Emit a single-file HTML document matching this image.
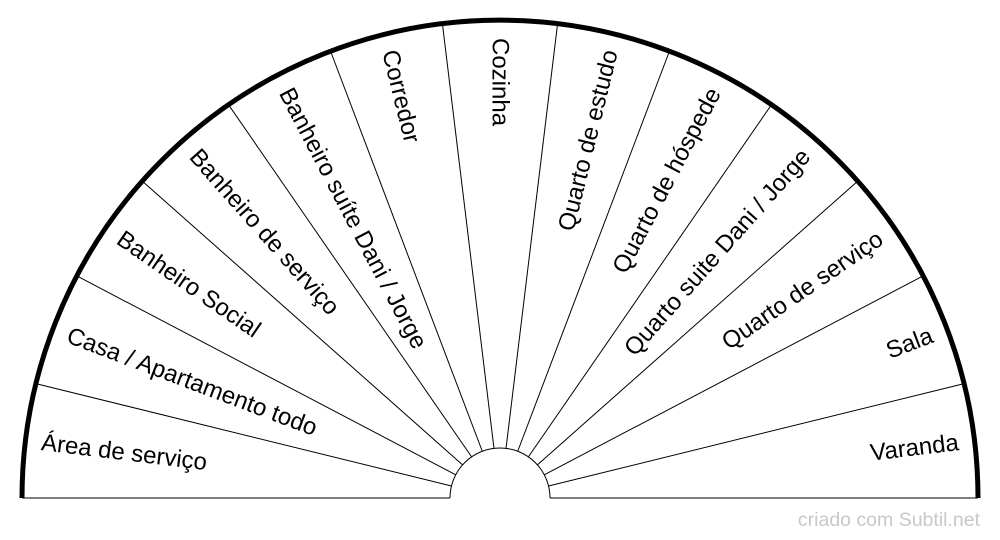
<!DOCTYPE html>
<html><head><meta charset="utf-8"><style>
html,body{margin:0;padding:0;background:#fff;}
svg{display:block;}
text{font-family:"Liberation Sans",sans-serif;}
</style></head><body>
<svg width="1000" height="540" xmlns="http://www.w3.org/2000/svg">
<g stroke="#000" stroke-width="1" fill="none">
<line x1="451.45" y1="486.03" x2="36.86" y2="383.84"/>
<line x1="455.73" y1="474.76" x2="77.63" y2="276.33"/>
<line x1="462.57" y1="464.84" x2="142.96" y2="181.69"/>
<line x1="471.60" y1="456.85" x2="229.04" y2="105.44"/>
<line x1="482.27" y1="451.25" x2="330.86" y2="51.99"/>
<line x1="493.97" y1="448.36" x2="442.50" y2="24.48"/>
<line x1="506.03" y1="448.36" x2="557.50" y2="24.48"/>
<line x1="517.73" y1="451.25" x2="669.14" y2="51.99"/>
<line x1="528.40" y1="456.85" x2="770.96" y2="105.44"/>
<line x1="537.43" y1="464.84" x2="857.04" y2="181.69"/>
<line x1="544.27" y1="474.76" x2="922.37" y2="276.33"/>
<line x1="548.55" y1="486.03" x2="963.14" y2="383.84"/>
</g>
<path d="M22,498 A478,478 0 0 1 978,498" stroke="#000" stroke-width="5" fill="none"/>
<path d="M450,498 A50,50 0 0 1 550,498" stroke="#000" stroke-width="1" fill="none"/>
<line x1="22" y1="498" x2="450" y2="498" stroke="#000" stroke-width="1"/>
<line x1="550" y1="498" x2="978" y2="498" stroke="#000" stroke-width="1"/>
<g font-size="24" fill="#000" dominant-baseline="central">
<text x="41.35" y="442.55" transform="rotate(6.923 41.35 442.55)">Área de serviço</text>
<text x="67.89" y="334.88" transform="rotate(20.769 67.89 334.88)">Casa / Apartamento todo</text>
<text x="119.43" y="236.69" transform="rotate(34.615 119.43 236.69)">Banheiro Social</text>
<text x="193.96" y="152.69" transform="rotate(48.462 193.96 152.69)">Banheiro de serviço</text>
<text x="285.23" y="89.69" transform="rotate(62.308 285.23 89.69)">Banheiro suíte Dani / Jorge</text>
<text x="389.41" y="50.37" transform="rotate(76.154 389.41 50.37)">Corredor</text>
<text x="500" y="38" transform="rotate(90 500 38)">Cozinha</text>
<text x="610.59" y="50.37" text-anchor="end" transform="rotate(-76.154 610.59 50.37)">Quarto de estudo</text>
<text x="714.77" y="89.69" text-anchor="end" transform="rotate(-62.308 714.77 89.69)">Quarto de hóspede</text>
<text x="806.04" y="152.69" text-anchor="end" transform="rotate(-48.462 806.04 152.69)">Quarto suite Dani / Jorge</text>
<text x="880.57" y="236.69" text-anchor="end" transform="rotate(-34.615 880.57 236.69)">Quarto de serviço</text>
<text x="932.11" y="334.88" text-anchor="end" transform="rotate(-20.769 932.11 334.88)">Sala</text>
<text x="958.65" y="442.55" text-anchor="end" transform="rotate(-6.923 958.65 442.55)">Varanda</text>
</g>
<text x="980" y="526" font-size="19.5" fill="#c8c8c8" text-anchor="end">criado com Subtil.net</text>
</svg>
</body></html>
